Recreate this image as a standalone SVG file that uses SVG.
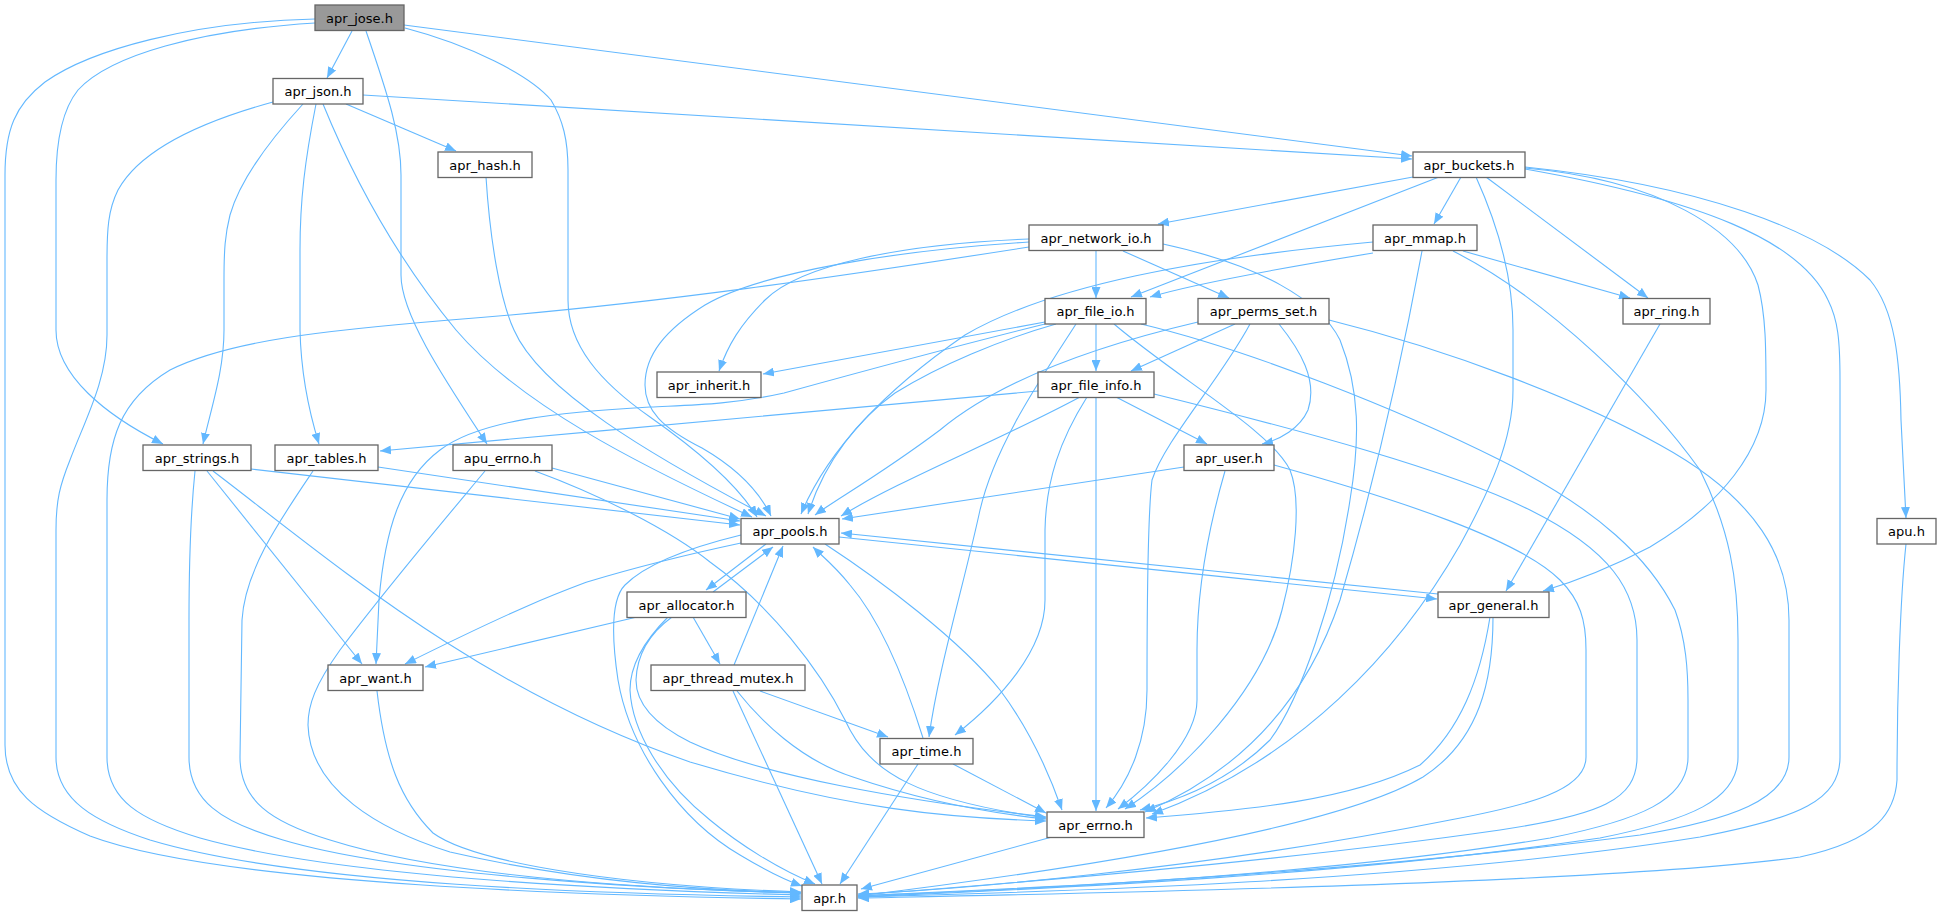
<svg xmlns="http://www.w3.org/2000/svg" width="1941" height="916" viewBox="0 0 1941 916">
<defs>
<style>
.e{fill:none;stroke:#63b8ff;stroke-width:1.1;marker-end:url(#a)}
.n rect{fill:#ffffff;stroke:#666666;stroke-width:1.3}
.n text{font-family:"DejaVu Sans","Liberation Sans",sans-serif;font-size:13px;text-anchor:middle;fill:#000000}
#n_jose rect{fill:#999999}
</style>
<marker id="a" markerUnits="userSpaceOnUse" markerWidth="11" markerHeight="9" viewBox="0 0 11 9" refX="11" refY="4.5" orient="auto"><path d="M0,0 L11,4.5 L0,9 z" fill="#63b8ff"/></marker>
</defs>
<rect width="1941" height="916" fill="#ffffff"/>
<g id="edges">
<path class="e" d="M352,31 L327,78"/>
<path class="e" d="M315,19 C190,22 90,50 45,82 C15,105 5,130 5,175 L5,745 C5,790 35,812 90,836 C220,885 600,896 801,899"/>
<path class="e" d="M315,23 C200,30 110,55 78,90 C62,110 56,140 56,180 L56,330 C56,375 105,415 163,444"/>
<path class="e" d="M366,31 C388,95 401,135 401,175 L401,275 C401,315 445,380 487,444"/>
<path class="e" d="M405,28 C470,45 530,75 551,100 C563,120 568,140 568,170 L568,300 C568,345 600,382 650,417 C700,452 738,485 757,517"/>
<path class="e" d="M404,25 L1412,156"/>
<path class="e" d="M273,102 C200,122 140,150 118,190 C108,210 107,230 107,260 L107,335 C107,380 85,420 70,460 C60,485 56,500 56,530 L56,757 C56,800 95,822 150,840 C300,885 600,894 801,897"/>
<path class="e" d="M303,104 C270,140 240,180 230,215 C225,235 224,250 224,280 L224,330 C224,370 212,405 203,444"/>
<path class="e" d="M316,104 C305,160 300,200 300,250 L300,330 C301,375 310,415 319,444"/>
<path class="e" d="M323,104 C350,170 390,250 456,330 C520,405 640,465 752,517"/>
<path class="e" d="M346,104 L456,151"/>
<path class="e" d="M363,95 L1412,159"/>
<path class="e" d="M486,177 C490,240 500,300 514,330 C540,390 650,455 766,516"/>
<path class="e" d="M1413,177 L1158,224"/>
<path class="e" d="M1439,177 L1131,297"/>
<path class="e" d="M1461,177 L1434,224"/>
<path class="e" d="M1476,177 C1500,230 1513,280 1513,330 L1513,390 C1513,440 1490,490 1460,545 C1400,650 1300,760 1152,814"/>
<path class="e" d="M1486,177 L1648,298"/>
<path class="e" d="M1525,168 C1660,180 1740,230 1758,285 C1766,315 1766,350 1766,390 C1766,450 1720,505 1650,547 C1610,568 1580,580 1543,591"/>
<path class="e" d="M1525,169 C1700,200 1800,240 1828,300 C1838,320 1840,340 1840,380 L1840,757 C1840,800 1800,818 1700,837 C1400,885 1000,893 858,897"/>
<path class="e" d="M1525,167 C1700,185 1820,230 1870,280 C1895,310 1900,360 1901,420 L1906,518"/>
<path class="e" d="M1096,251 L1096,298"/>
<path class="e" d="M1123,251 L1229,298"/>
<path class="e" d="M1029,239 C900,244 800,265 765,300 C740,325 728,345 719,371"/>
<path class="e" d="M1029,242 C900,250 760,272 705,305 C665,330 645,355 645,385 C645,410 662,428 702,448 C740,470 760,493 771,516"/>
<path class="e" d="M1029,247 C850,275 650,305 450,320 C330,330 230,340 170,370 C120,400 107,440 107,500 L107,757 C107,800 140,820 200,838 C350,880 650,891 801,895"/>
<path class="e" d="M1163,244 C1260,265 1320,300 1340,340 C1360,390 1360,440 1350,500 C1335,600 1300,700 1270,740 C1230,780 1180,800 1140,810"/>
<path class="e" d="M1373,253 C1300,265 1200,282 1150,297"/>
<path class="e" d="M1373,242 C1200,258 1050,285 965,335 C885,390 828,450 801,514"/>
<path class="e" d="M1422,251 C1400,370 1375,480 1340,600 C1300,720 1220,780 1145,812"/>
<path class="e" d="M1453,251 C1550,300 1650,400 1700,470 C1730,530 1738,580 1738,640 L1738,757 C1738,800 1690,820 1600,838 C1300,882 950,892 858,897"/>
<path class="e" d="M1463,251 L1630,298"/>
<path class="e" d="M1045,322 L763,374"/>
<path class="e" d="M1045,324 C960,345 860,372 784,393 C730,405 690,405 650,407 C560,412 480,420 440,450 C400,480 385,530 379,600 L376,664"/>
<path class="e" d="M1056,324 C1000,340 940,365 895,393 C860,418 825,460 808,514"/>
<path class="e" d="M1076,324 C1040,380 995,445 980,510 C965,580 938,670 929,737"/>
<path class="e" d="M1096,324 L1096,371"/>
<path class="e" d="M1114,324 C1180,380 1270,430 1290,470 C1302,500 1295,560 1282,610 C1262,690 1185,770 1125,809"/>
<path class="e" d="M1141,324 C1250,350 1400,410 1500,460 C1600,510 1650,560 1675,610 C1686,640 1688,670 1688,700 L1688,757 C1688,800 1640,820 1550,838 C1300,880 950,892 858,896"/>
<path class="e" d="M1235,324 L1131,371"/>
<path class="e" d="M1279,324 C1300,350 1318,380 1308,410 C1300,428 1280,440 1262,444"/>
<path class="e" d="M1198,322 C1100,345 1000,380 940,430 C880,475 835,500 815,515"/>
<path class="e" d="M1250,324 C1220,380 1165,440 1152,480 C1147,520 1147,620 1147,690 C1147,740 1130,780 1106,808"/>
<path class="e" d="M1329,320 C1450,350 1580,400 1660,445 C1760,500 1789,560 1789,620 L1789,757 C1789,800 1730,820 1640,835 C1300,880 950,891 858,896"/>
<path class="e" d="M1660,324 L1506,591"/>
<path class="e" d="M1038,391 C850,410 600,430 380,451"/>
<path class="e" d="M1080,397 C1000,440 900,480 841,516"/>
<path class="e" d="M1116,397 L1207,444"/>
<path class="e" d="M1087,397 C1060,440 1046,480 1045,530 L1045,600 C1045,650 1000,700 955,735"/>
<path class="e" d="M1096,397 L1096,811"/>
<path class="e" d="M1154,394 C1300,430 1450,470 1530,510 C1610,550 1637,590 1637,640 L1637,757 C1637,800 1600,815 1500,830 C1250,866 950,888 858,895"/>
<path class="e" d="M251,469 L740,525"/>
<path class="e" d="M195,471 C190,520 189,570 189,620 L189,757 C189,800 220,822 283,840 C400,875 650,889 801,893"/>
<path class="e" d="M207,471 L362,664"/>
<path class="e" d="M213,471 C330,560 480,690 690,762 C850,810 950,818 1046,821"/>
<path class="e" d="M378,467 L740,521"/>
<path class="e" d="M313,471 C280,520 245,570 242,620 L240,757 C240,800 270,822 330,840 C450,878 650,889 801,893"/>
<path class="e" d="M552,468 L740,519"/>
<path class="e" d="M535,471 C600,495 670,530 710,562 C770,605 820,670 845,720 C870,775 920,800 1046,818"/>
<path class="e" d="M485,471 C440,525 385,590 340,650 C315,685 308,705 308,725 C310,790 380,830 450,852 C580,882 700,890 801,893"/>
<path class="e" d="M1184,467 L842,519"/>
<path class="e" d="M1225,471 C1205,540 1197,600 1197,650 L1197,700 C1197,740 1150,785 1118,809"/>
<path class="e" d="M1274,465 C1400,500 1520,540 1560,580 C1580,600 1586,620 1586,650 L1586,757 C1586,790 1530,805 1450,820 C1200,870 950,890 858,894"/>
<path class="e" d="M766,544 L706,590"/>
<path class="e" d="M839,537 L1437,599"/>
<path class="e" d="M741,543 C680,556 620,572 587,582 C555,594 520,607 405,664"/>
<path class="e" d="M825,544 C880,580 960,640 1000,690 C1030,730 1048,770 1062,810"/>
<path class="e" d="M741,535 C700,545 650,560 625,585 C610,600 612,640 618,680 C630,750 680,820 740,855 C765,870 785,880 802,886"/>
<path class="e" d="M713,592 L773,547"/>
<path class="e" d="M637,617 L425,667"/>
<path class="e" d="M693,617 L720,664"/>
<path class="e" d="M672,617 C650,633 637,655 636,680 C636,700 650,722 690,742 C760,775 900,800 1046,817"/>
<path class="e" d="M668,617 C645,640 630,665 630,690 C632,730 660,780 710,820 C740,845 780,870 815,884"/>
<path class="e" d="M1438,594 L841,533"/>
<path class="e" d="M1490,617 C1480,680 1460,730 1420,765 C1350,800 1250,810 1146,818"/>
<path class="e" d="M1493,617 C1493,680 1480,740 1423,777 C1350,820 1150,860 858,896"/>
<path class="e" d="M734,665 L783,546"/>
<path class="e" d="M760,691 L888,737"/>
<path class="e" d="M737,691 C760,720 800,760 853,777 C920,800 980,812 1046,819"/>
<path class="e" d="M733,691 L822,884"/>
<path class="e" d="M923,738 C905,680 880,620 850,585 C835,566 822,556 813,547"/>
<path class="e" d="M953,764 L1046,813"/>
<path class="e" d="M918,764 L840,884"/>
<path class="e" d="M377,691 C385,760 400,800 433,833 C470,860 600,885 801,892"/>
<path class="e" d="M1052,837 L861,889"/>
<path class="e" d="M1906,544 C1900,600 1897,700 1897,780 C1895,810 1880,840 1800,857 C1600,885 1000,895 858,898"/>
</g>
<g id="n_jose" class="n"><rect x="315" y="5" width="89" height="25.5"/><text x="359.5" y="22.5">apr_jose.h</text></g>
<g id="n_json" class="n"><rect x="273" y="78.5" width="90" height="25.5"/><text x="318" y="96">apr_json.h</text></g>
<g id="n_hash" class="n"><rect x="438" y="152" width="94" height="25.5"/><text x="485" y="169.5">apr_hash.h</text></g>
<g id="n_buckets" class="n"><rect x="1413" y="152" width="112" height="25.5"/><text x="1469" y="169.5">apr_buckets.h</text></g>
<g id="n_network_io" class="n"><rect x="1029" y="225" width="134" height="25.5"/><text x="1096" y="242.5">apr_network_io.h</text></g>
<g id="n_mmap" class="n"><rect x="1373" y="225" width="104" height="25.5"/><text x="1425" y="242.5">apr_mmap.h</text></g>
<g id="n_file_io" class="n"><rect x="1045" y="298.5" width="101" height="25.5"/><text x="1095.5" y="316">apr_file_io.h</text></g>
<g id="n_perms_set" class="n"><rect x="1198" y="298.5" width="131" height="25.5"/><text x="1263.5" y="316">apr_perms_set.h</text></g>
<g id="n_ring" class="n"><rect x="1623" y="298.5" width="87" height="25.5"/><text x="1666.5" y="316">apr_ring.h</text></g>
<g id="n_inherit" class="n"><rect x="657" y="372" width="104" height="25.5"/><text x="709" y="389.5">apr_inherit.h</text></g>
<g id="n_file_info" class="n"><rect x="1038" y="372" width="116" height="25.5"/><text x="1096" y="389.5">apr_file_info.h</text></g>
<g id="n_strings" class="n"><rect x="143" y="445" width="108" height="25.5"/><text x="197" y="462.5">apr_strings.h</text></g>
<g id="n_tables" class="n"><rect x="275" y="445" width="103" height="25.5"/><text x="326.5" y="462.5">apr_tables.h</text></g>
<g id="n_apu_errno" class="n"><rect x="453" y="445" width="99" height="25.5"/><text x="502.5" y="462.5">apu_errno.h</text></g>
<g id="n_user" class="n"><rect x="1184" y="445" width="90" height="25.5"/><text x="1229" y="462.5">apr_user.h</text></g>
<g id="n_pools" class="n"><rect x="741" y="518.5" width="98" height="25.5"/><text x="790" y="536">apr_pools.h</text></g>
<g id="n_apu" class="n"><rect x="1877" y="518.5" width="59" height="25.5"/><text x="1906.5" y="536">apu.h</text></g>
<g id="n_allocator" class="n"><rect x="627" y="592" width="119" height="25.5"/><text x="686.5" y="609.5">apr_allocator.h</text></g>
<g id="n_general" class="n"><rect x="1438" y="592" width="111" height="25.5"/><text x="1493.5" y="609.5">apr_general.h</text></g>
<g id="n_want" class="n"><rect x="328" y="665" width="95" height="25.5"/><text x="375.5" y="682.5">apr_want.h</text></g>
<g id="n_thread_mutex" class="n"><rect x="651" y="665" width="154" height="25.5"/><text x="728" y="682.5">apr_thread_mutex.h</text></g>
<g id="n_time" class="n"><rect x="880" y="738.5" width="93" height="25.5"/><text x="926.5" y="756">apr_time.h</text></g>
<g id="n_errno" class="n"><rect x="1047" y="812" width="97" height="25.5"/><text x="1095.5" y="829.5">apr_errno.h</text></g>
<g id="n_apr" class="n"><rect x="802" y="885" width="55" height="25.5"/><text x="829.5" y="902.5">apr.h</text></g>
</svg>
